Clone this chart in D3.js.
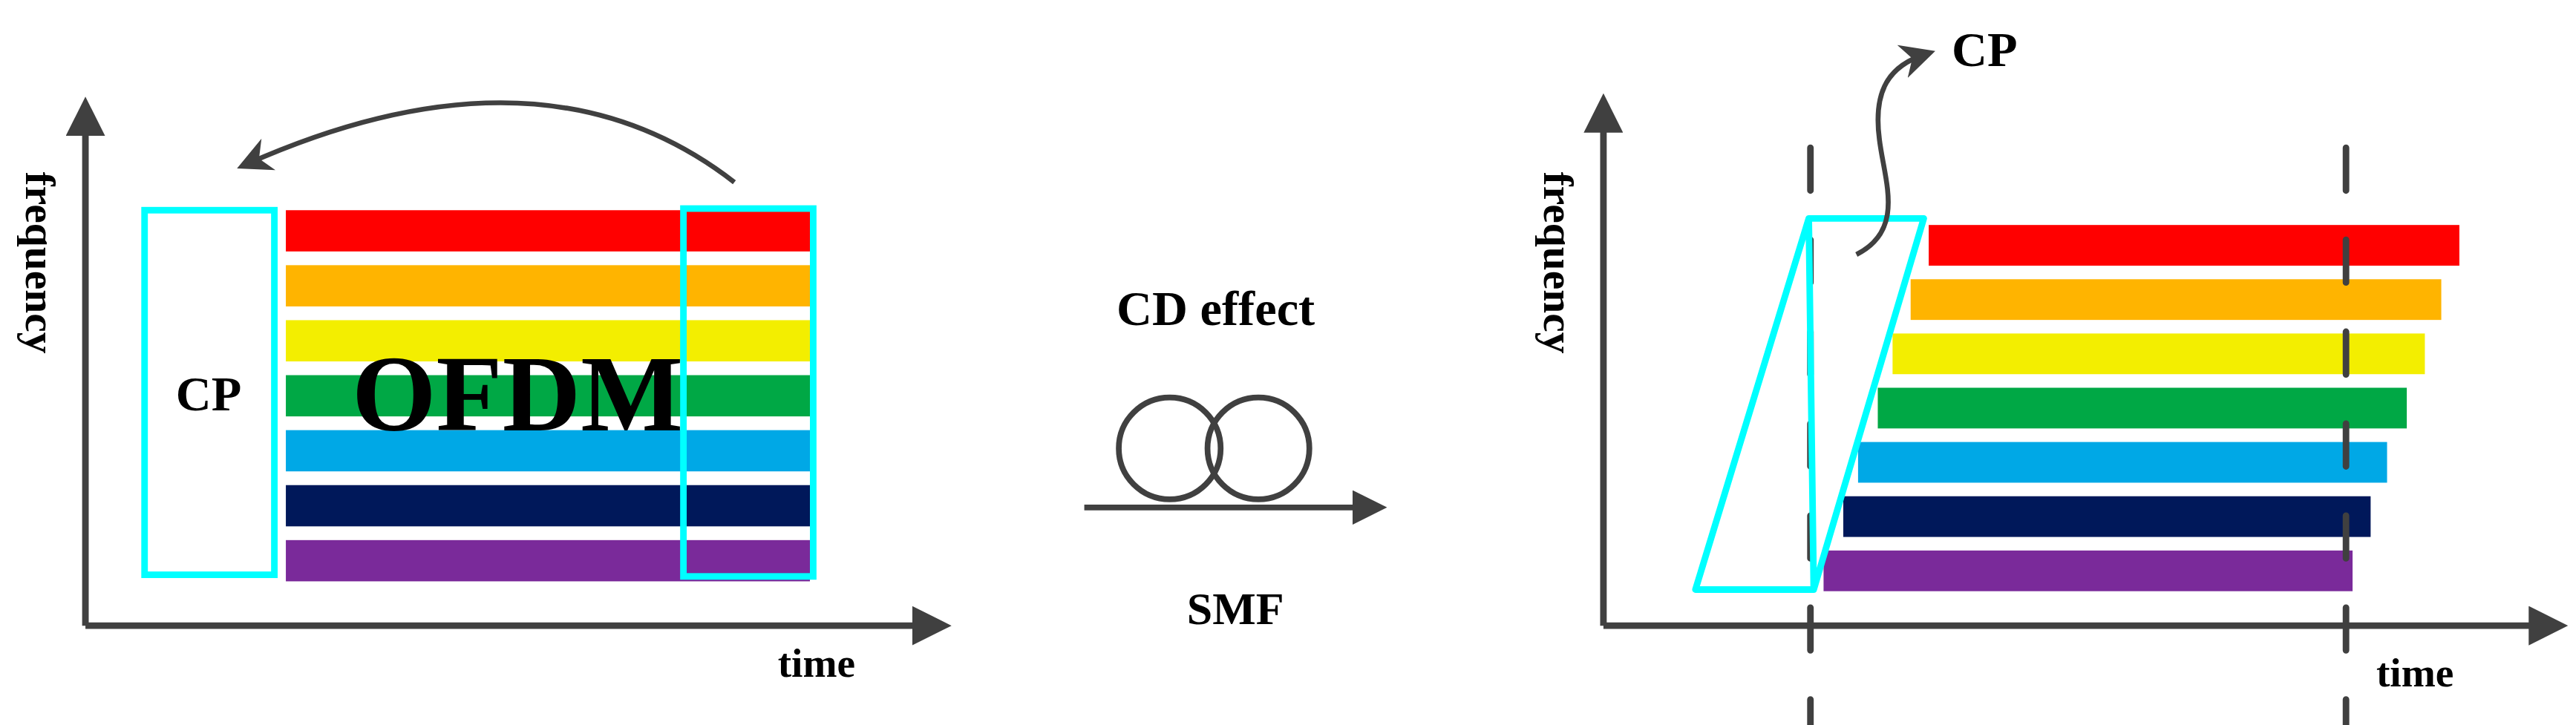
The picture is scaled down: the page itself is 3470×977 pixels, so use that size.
<!DOCTYPE html>
<html>
<head>
<script src="https://d3js.org/d3.v7.min.js"></script>
<style>
  body { margin: 0; background: #fff; overflow: hidden; }
  text { font-family: 'Liberation Serif', serif; font-weight: bold; fill: #000; }
</style>
</head>
<body>
<script>
// subcarrier rows, top (highest frequency) to bottom
const carriers = ['c1', 'c2', 'c3', 'c4', 'c5', 'c6', 'c7'];
const carrierColors = ['#ff0000', '#ffb400', '#f3ee00', '#00a845', '#00a8e6', '#00185a', '#7a2a9a'];
// right panel: start / end time of each subcarrier after dispersion (drawing units)
const shiftedStart = [1174, 1163, 1152, 1143, 1131, 1122, 1110];
const shiftedEnd = [1497, 1486, 1476, 1465, 1453, 1443, 1432];

const W = 3470, H = 977, k = W / 1568;
const svg = d3.select('body').append('svg').attr('width', W).attr('height', H);
const g = svg.append('g').attr('transform', `scale(${k})`);
const axisColor = '#404040';

const defs = svg.append('defs');
defs.append('marker').attr('id', 'head').attr('viewBox', '0 0 10 10').attr('refX', 7).attr('refY', 5)
    .attr('markerWidth', 6).attr('markerHeight', 6).attr('orient', 'auto-start-reverse')
    .attr('markerUnits', 'strokeWidth')
    .append('path').attr('d', 'M0,0L10,5L0,10Z').attr('fill', axisColor);
defs.append('marker').attr('id', 'headThin').attr('viewBox', '0 0 10 10').attr('refX', 7).attr('refY', 5)
    .attr('markerWidth', 7).attr('markerHeight', 7).attr('orient', 'auto')
    .append('path').attr('d', 'M0,0L10,5L0,10L3,5Z').attr('fill', axisColor);

function axes(x0, x1, yTop, y0, labelX) {
    g.append('line').attr('x1', x0).attr('y1', y0).attr('x2', x0).attr('y2', yTop)
        .attr('stroke', axisColor).attr('stroke-width', 4).attr('marker-end', 'url(#head)');
    g.append('line').attr('x1', x0).attr('y1', y0).attr('x2', x1).attr('y2', y0)
        .attr('stroke', axisColor).attr('stroke-width', 4).attr('marker-end', 'url(#head)');
    g.append('text').attr('transform', `translate(${labelX},160) rotate(90)`)
        .attr('text-anchor', 'middle').attr('font-size', 26).text('frequency');
}

// ---------- left panel ----------
axes(52, 572, 66, 381, 16);
const yLeft = d3.scaleBand().domain(carriers).range([128, 354]).paddingInner(0.25);
g.append('g').selectAll('rect').data(carriers).join('rect')
    .attr('x', 174).attr('width', 493 - 174)
    .attr('y', d => yLeft(d)).attr('height', yLeft.bandwidth())
    .attr('fill', (d, i) => carrierColors[i]);
g.append('rect').attr('x', 88).attr('y', 128).attr('width', 79).attr('height', 222)
    .attr('fill', 'none').attr('stroke', '#00ffff').attr('stroke-width', 4);
g.append('rect').attr('x', 416).attr('y', 127).attr('width', 79).attr('height', 224)
    .attr('fill', 'none').attr('stroke', '#00ffff').attr('stroke-width', 4);
g.append('text').attr('x', 127).attr('y', 250).attr('text-anchor', 'middle').attr('font-size', 30).text('CP');
g.append('text').attr('x', 315).attr('y', 262).attr('text-anchor', 'middle').attr('font-size', 66).text('OFDM');
g.append('path').attr('d', 'M447,111 Q330,20 150,100').attr('fill', 'none')
    .attr('stroke', axisColor).attr('stroke-width', 3).attr('marker-end', 'url(#headThin)');
g.append('text').attr('x', 497).attr('y', 412).attr('text-anchor', 'middle').attr('font-size', 25).text('time');

// ---------- middle ----------
g.append('text').attr('x', 740).attr('y', 198).attr('text-anchor', 'middle').attr('font-size', 30).text('CD effect');
[712, 766].forEach(cx => g.append('circle').attr('cx', cx).attr('cy', 273).attr('r', 31)
    .attr('fill', 'none').attr('stroke', axisColor).attr('stroke-width', 3.5));
g.append('line').attr('x1', 660).attr('y1', 309).attr('x2', 838).attr('y2', 309)
    .attr('stroke', axisColor).attr('stroke-width', 3.5).attr('marker-end', 'url(#head)');
g.append('text').attr('x', 752).attr('y', 380).attr('text-anchor', 'middle').attr('font-size', 28).text('SMF');

// ---------- right panel ----------
axes(976, 1556, 64, 381, 940);
const yRight = d3.scaleBand().domain(carriers).range([137, 360]).paddingInner(0.25);
g.append('g').selectAll('rect').data(carriers).join('rect')
    .attr('x', (d, i) => shiftedStart[i]).attr('width', (d, i) => shiftedEnd[i] - shiftedStart[i])
    .attr('y', d => yRight(d)).attr('height', yRight.bandwidth())
    .attr('fill', (d, i) => carrierColors[i]);
[1102, 1428].forEach(x => g.append('line').attr('x1', x).attr('y1', 90).attr('x2', x).attr('y2', 444)
    .attr('stroke', axisColor).attr('stroke-width', 4).attr('stroke-dasharray', '26,30').attr('stroke-linecap', 'round'));
g.append('path').attr('d', 'M1101,133 L1171,133 L1104,359 L1032,359 Z M1101,133 L1104,359')
    .attr('fill', 'none').attr('stroke', '#00ffff').attr('stroke-width', 4).attr('stroke-linejoin', 'round');
g.append('path').attr('d', 'M1130,155 C1160,140 1147,110 1144,85 C1140,55 1150,40 1172,33')
    .attr('fill', 'none').attr('stroke', axisColor).attr('stroke-width', 3).attr('marker-end', 'url(#headThin)');
g.append('text').attr('x', 1208).attr('y', 40).attr('text-anchor', 'middle').attr('font-size', 30).text('CP');
g.append('text').attr('x', 1470).attr('y', 418).attr('text-anchor', 'middle').attr('font-size', 25).text('time');
</script>
</body>
</html>
